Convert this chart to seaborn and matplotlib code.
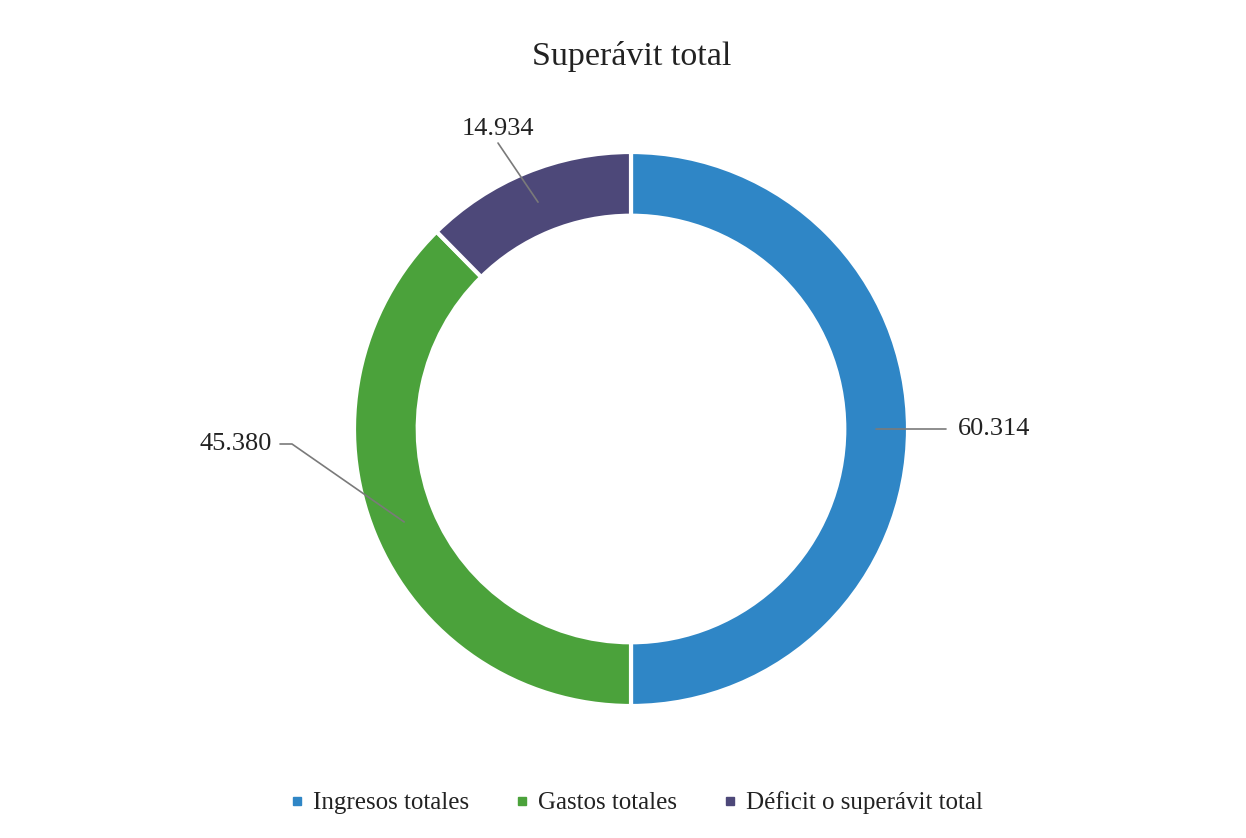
import matplotlib
matplotlib.use("Agg")
import matplotlib.pyplot as plt
from matplotlib.lines import Line2D
import seaborn as sns
import numpy as np

categories = ["Ingresos totales", "Gastos totales", "Déficit o superávit total"]
values = [60.314, 45.380, 14.934]
value_labels = ["60.314", "45.380", "14.934"]
title = "Superávit total"
colors = ["#2f86c6", "#4ba23b", "#4d4879"]

sns.set_theme(style="white")
plt.rcParams['font.family'] = ['Liberation Serif', 'DejaVu Serif']

W, H = 1246, 838
fig = plt.figure(figsize=(W / 100, H / 100), dpi=100)
fig.patch.set_facecolor("white")

cx, cy, R = 631, 429, 277
L = 1.4
S = R * L
ax = fig.add_axes([(cx - S) / W, (H - cy - S) / H, 2 * S / W, 2 * S / H])

palette = sns.color_palette(colors)
width = 0.23
wedges, _ = ax.pie(values, colors=palette, startangle=90, counterclock=False,
                   radius=1.0, wedgeprops=dict(width=width, edgecolor="white", linewidth=3))
ax.set_xlim(-L, L)
ax.set_ylim(-L, L)
ax.set_aspect("equal")
ax.axis("off")

mid_r = 1 - width / 2
px = 1.0 / R
label_pos = [
    (958 - cx, cy - 429, "left"),
    (272 - cx, cy - 444, "right"),
    (498 - cx, cy - 129, "center"),
]
line_color = "#7a7a7a"
fs = 19
for i, w in enumerate(wedges):
    ang = np.deg2rad((w.theta1 + w.theta2) / 2)
    x0, y0 = mid_r * np.cos(ang), mid_r * np.sin(ang)
    tx, ty, ha = label_pos[i]
    tx *= px
    ty *= px
    if ha == "left":
        ax.plot([x0, tx - 12 * px], [y0, y0], color=line_color, lw=1.2)
        ax.text(tx, ty, value_labels[i], ha="left", va="center", fontsize=fs, color="#222222")
    elif ha == "right":
        ax.plot([x0, tx + 20 * px, tx + 8 * px], [y0, ty, ty], color=line_color, lw=1.2)
        ax.text(tx, ty, value_labels[i], ha="right", va="center", fontsize=fs, color="#222222")
    else:
        ax.plot([x0, tx], [y0, ty - 14 * px], color=line_color, lw=1.2)
        ax.text(tx, ty, value_labels[i], ha="center", va="center", fontsize=fs, color="#222222")

fig.text(632 / W, 1 - 57 / H, title, ha="center", va="center", fontsize=24.5, color="#222222")

handles = [Line2D([0], [0], marker="s", linestyle="none", markersize=5.5,
                  markerfacecolor=c, markeredgecolor=c) for c in palette]
fig.legend(handles, categories, loc="center", bbox_to_anchor=(635 / W, 1 - 803 / H),
           ncol=3, frameon=False, fontsize=18, handletextpad=0.25, columnspacing=1.7,
           handlelength=0.8, labelcolor="#222222")

fig.savefig("out.png", dpi=100, facecolor="white")
